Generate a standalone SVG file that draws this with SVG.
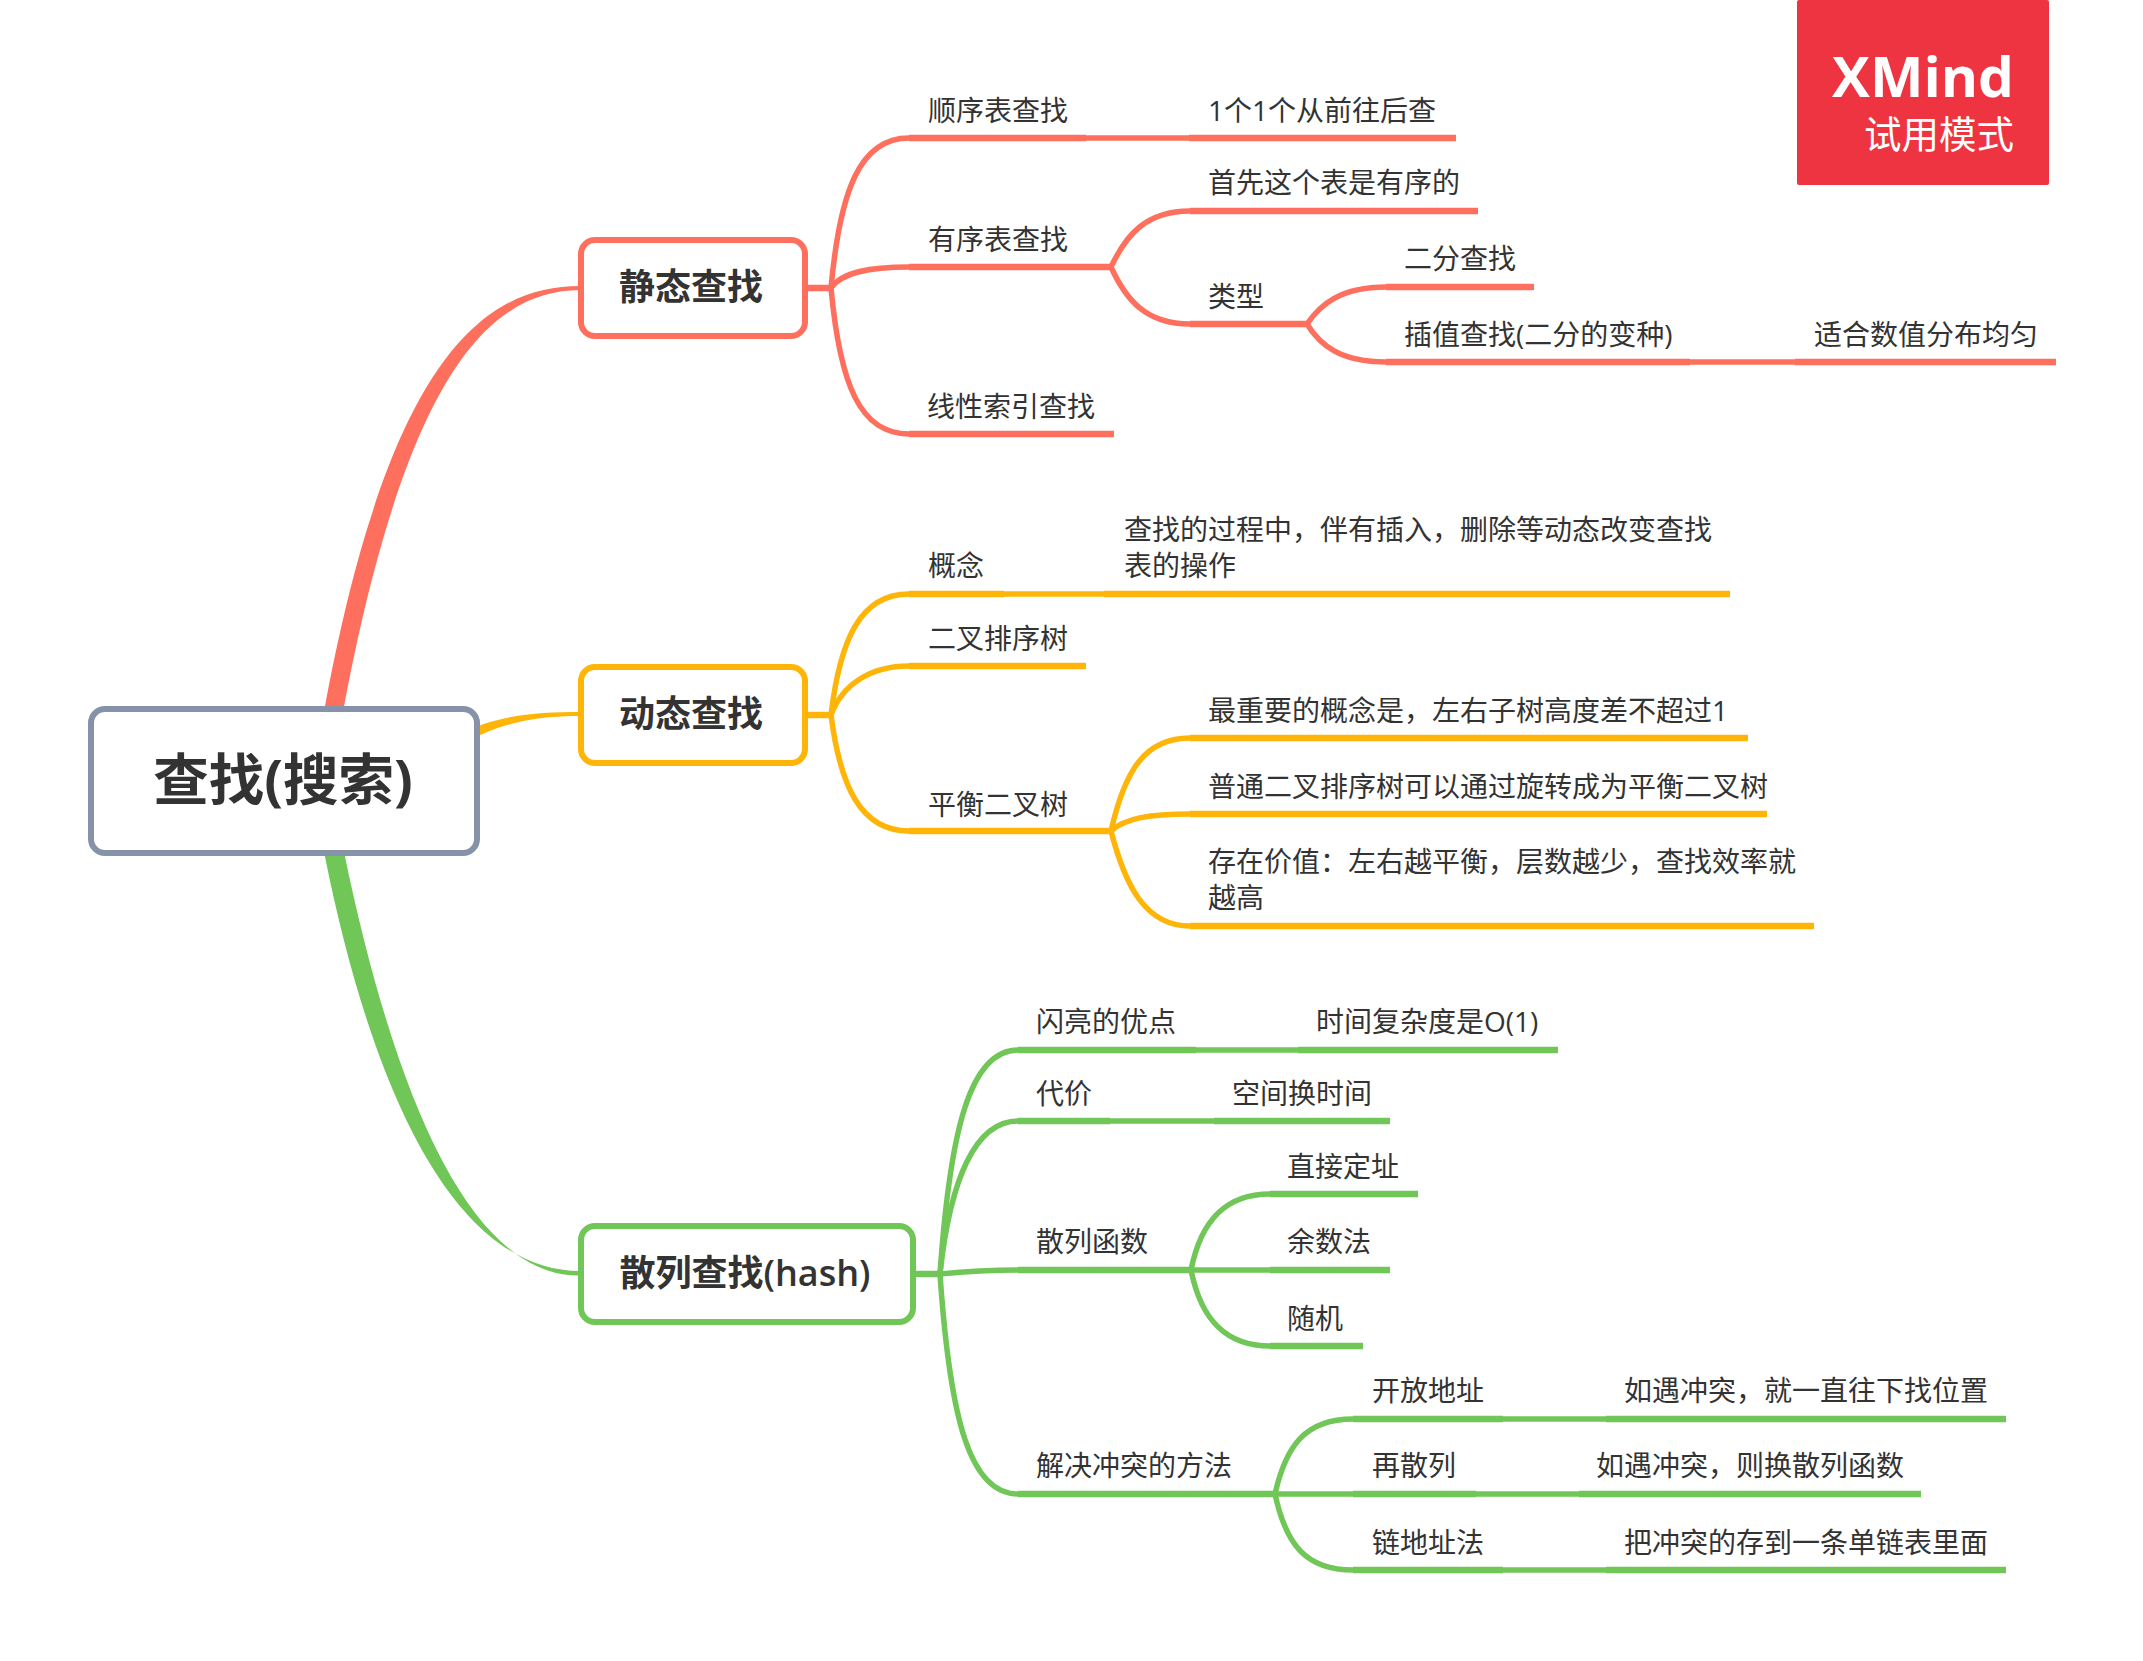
<svg xmlns="http://www.w3.org/2000/svg" width="2143" height="1661" viewBox="0 0 2143 1661">
<style>
text{font-family:"Open Sans","Noto Sans CJK SC",sans-serif;fill:#333}
.t{font-size:28px}
.l1{font-size:36px;font-weight:700;text-anchor:middle}
.lat{font-weight:600}
.r{font-size:55.5px;font-weight:700;text-anchor:middle}
.box{fill:#fff;stroke-width:6}
.c{fill:none;stroke-width:5.5}
.u{stroke-width:6.5;fill:none}
.link{fill:none;stroke-width:5.5}
.red .c,.red .u,.red .link,.red .box{stroke:#ff6f5e}
.yel .c,.yel .u,.yel .link,.yel .box{stroke:#ffb507}
.grn .c,.grn .u,.grn .link,.grn .box{stroke:#70c656}
</style>
<rect width="2143" height="1661" fill="#fff"/>
<g id="connectors">
<path d="M324,712 C388,362 482,286 580,286 L580,290 C494,291 408,364 343,712 Z" fill="#ff6f5e"/>
<path d="M478,726 C510,714 545,712 580,712 L580,716 C545,716 512,720 478,736 Z" fill="#ffb507"/>
<path d="M324,852 C380,1132 470,1271 580,1271 L580,1275.5 C482,1277 402,1132 344,852 Z" fill="#70c656"/>
<g class="red">
<path class="u" d="M805,288H831"/>
<path class="c" d="M831,288C840,190 860,138 909,138"/>
<path class="c" d="M831,288C842,272 870,267 909,267"/>
<path class="c" d="M831,288C840,385 860,434 909,434"/>
<path class="link" d="M1086,138H1189"/>
<path class="c" d="M1111,267C1126,235 1146,211 1190,211"/>
<path class="c" d="M1111,267C1126,300 1146,324 1190,324"/>
<path class="c" d="M1307,324C1320,305 1340,287 1386,287"/>
<path class="c" d="M1307,324C1320,345 1340,362 1386,362"/>
<path class="link" d="M1690,362H1795"/>
</g>
<g class="yel">
<path class="u" d="M805,715H831"/>
<path class="c" d="M831,715C840,640 860,594 909,594"/>
<path class="c" d="M831,715C842,685 870,666 909,666"/>
<path class="c" d="M831,715C840,785 860,831 909,831"/>
<path class="link" d="M1004,594H1104"/>
<path class="c" d="M1111,831C1125,770 1145,738 1190,738"/>
<path class="c" d="M1111,831C1125,818 1150,814 1190,814"/>
<path class="c" d="M1111,831C1125,885 1145,926 1190,926"/>
</g>
<g class="grn">
<path class="u" d="M914,1274H940"/>
<path class="c" d="M940,1274C950,1130 970,1050 1018,1050"/>
<path class="c" d="M940,1274C950,1180 975,1121 1018,1121"/>
<path class="c" d="M940,1274C960,1272 990,1270 1018,1270"/>
<path class="c" d="M940,1274C950,1420 970,1494 1018,1494"/>
<path class="link" d="M1196,1050H1298"/>
<path class="link" d="M1110,1121H1214"/>
<path class="c" d="M1191,1270C1201,1220 1226,1194 1270,1194"/>
<path class="c" d="M1191,1270H1270"/>
<path class="c" d="M1191,1270C1201,1320 1226,1346 1270,1346"/>
<path class="c" d="M1275,1494C1286,1445 1306,1419 1353,1419"/>
<path class="c" d="M1275,1494H1353"/>
<path class="c" d="M1275,1494C1286,1545 1306,1570 1353,1570"/>
<path class="link" d="M1503,1419H1606"/>
<path class="link" d="M1476,1494H1579"/>
<path class="link" d="M1503,1570H1606"/>
</g>
</g>
<g id="root"><rect x="91" y="709" width="386" height="144" rx="14" fill="#fff" stroke="#8592a8" stroke-width="6"/><text class="r" x="283" y="800">查找(搜索)</text></g>
<g class="red">
<g id="static"><rect class="box" x="581" y="240" width="224" height="96" rx="14"/><text class="l1" x="691" y="300">静态查找</text></g>
<g id="s1"><path class="u" d="M909,138H1086"/><text class="t" x="928" y="121">顺序表查找</text></g>
<g id="s1a"><path class="u" d="M1189,138H1456"/><text class="t" x="1208" y="121">1个1个从前往后查</text></g>
<g id="s2"><path class="u" d="M909,267H1111"/><text class="t" x="928" y="250">有序表查找</text></g>
<g id="s2a"><path class="u" d="M1190,211H1478"/><text class="t" x="1208" y="193">首先这个表是有序的</text></g>
<g id="s2b"><path class="u" d="M1190,324H1307"/><text class="t" x="1208" y="307">类型</text></g>
<g id="s2b1"><path class="u" d="M1386,287H1534"/><text class="t" x="1404" y="269">二分查找</text></g>
<g id="s2b2"><path class="u" d="M1386,362H1690"/><text class="t" x="1404" y="345">插值查找(二分的变种)</text></g>
<g id="s2b2a"><path class="u" d="M1795,362H2056"/><text class="t" x="1814" y="345">适合数值分布均匀</text></g>
<g id="s3"><path class="u" d="M909,434H1114"/><text class="t" x="927" y="417">线性索引查找</text></g>
</g>
<g class="yel">
<g id="dynamic"><rect class="box" x="581" y="667" width="224" height="96" rx="14"/><text class="l1" x="691" y="727">动态查找</text></g>
<g id="d1"><path class="u" d="M909,594H1004"/><text class="t" x="928" y="576">概念</text></g>
<g id="d1a"><path class="u" d="M1104,594H1730"/><text class="t" x="1124" y="540">查找的过程中，伴有插入，删除等动态改变查找</text><text class="t" x="1124" y="576">表的操作</text></g>
<g id="d2"><path class="u" d="M909,666H1086"/><text class="t" x="928" y="649">二叉排序树</text></g>
<g id="d3"><path class="u" d="M909,831H1111"/><text class="t" x="928" y="815">平衡二叉树</text></g>
<g id="d3a"><path class="u" d="M1190,738H1748"/><text class="t" x="1208" y="721">最重要的概念是，左右子树高度差不超过1</text></g>
<g id="d3b"><path class="u" d="M1190,814H1767"/><text class="t" x="1208" y="797">普通二叉排序树可以通过旋转成为平衡二叉树</text></g>
<g id="d3c"><path class="u" d="M1190,926H1814"/><text class="t" x="1208" y="872">存在价值：左右越平衡，层数越少，查找效率就</text><text class="t" x="1208" y="908">越高</text></g>
</g>
<g class="grn">
<g id="hash"><rect class="box" x="581" y="1226" width="332" height="96" rx="14"/><text class="l1" x="745" y="1286">散列查找<tspan class="lat">(hash)</tspan></text></g>
<g id="h1"><path class="u" d="M1018,1050H1196"/><text class="t" x="1036" y="1032">闪亮的优点</text></g>
<g id="h1a"><path class="u" d="M1298,1050H1558"/><text class="t" x="1316" y="1032">时间复杂度是O(1)</text></g>
<g id="h2"><path class="u" d="M1018,1121H1110"/><text class="t" x="1036" y="1104">代价</text></g>
<g id="h2a"><path class="u" d="M1214,1121H1390"/><text class="t" x="1232" y="1104">空间换时间</text></g>
<g id="h3"><path class="u" d="M1018,1270H1191"/><text class="t" x="1036" y="1252">散列函数</text></g>
<g id="h3a"><path class="u" d="M1270,1194H1418"/><text class="t" x="1287" y="1177">直接定址</text></g>
<g id="h3b"><path class="u" d="M1270,1270H1390"/><text class="t" x="1287" y="1252">余数法</text></g>
<g id="h3c"><path class="u" d="M1270,1346H1363"/><text class="t" x="1287" y="1329">随机</text></g>
<g id="h4"><path class="u" d="M1018,1494H1275"/><text class="t" x="1036" y="1476">解决冲突的方法</text></g>
<g id="h4a"><path class="u" d="M1353,1419H1503"/><text class="t" x="1372" y="1401">开放地址</text></g>
<g id="h4a1"><path class="u" d="M1606,1419H2006"/><text class="t" x="1624" y="1401">如遇冲突，就一直往下找位置</text></g>
<g id="h4b"><path class="u" d="M1353,1494H1476"/><text class="t" x="1372" y="1476">再散列</text></g>
<g id="h4b1"><path class="u" d="M1579,1494H1921"/><text class="t" x="1596" y="1476">如遇冲突，则换散列函数</text></g>
<g id="h4c"><path class="u" d="M1353,1570H1503"/><text class="t" x="1372" y="1553">链地址法</text></g>
<g id="h4c1"><path class="u" d="M1606,1570H2006"/><text class="t" x="1624" y="1553">把冲突的存到一条单链表里面</text></g>
</g>
<g id="xmind-badge">
<rect x="1797" y="0" width="252" height="185" rx="2" fill="#ee3440"/>
<text x="1832" y="97" textLength="182" lengthAdjust="spacingAndGlyphs" font-size="56" font-weight="700" style="fill:#fff">XMind</text>
<text x="2014" y="148" text-anchor="end" font-size="37.5" style="fill:#fff">试用模式</text>
</g>
</svg>
